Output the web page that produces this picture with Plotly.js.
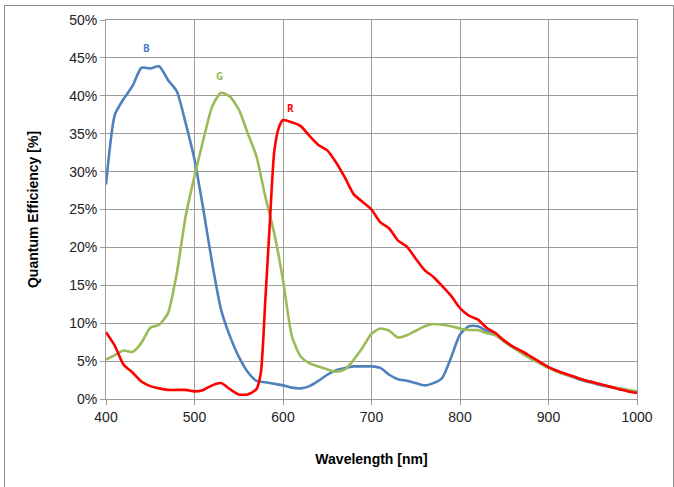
<!DOCTYPE html>
<html><head><meta charset="utf-8">
<script src="https://cdn.plot.ly/plotly-3.0.1.min.js"></script>
<style>
html,body{margin:0;padding:0;background:#fff;}
#wrap{position:relative;width:674px;height:487px;overflow:hidden;}
#frame{position:absolute;left:4px;top:5px;width:670px;height:490px;border:1px solid #8c8c8c;box-sizing:border-box;}
#chart{position:absolute;left:0;top:0;width:674px;height:487px;}
</style></head>
<body><div id="wrap"><div id="frame"></div><div id="chart"></div></div>
<script>
const wavelength = [400,410,420,430,440,450,460,470,480,490,500,510,520,530,540,550,560,570,580,590,600,610,620,630,640,650,660,670,680,690,700,710,720,730,740,750,760,770,780,790,800,810,820,830,840,850,860,870,880,890,900,910,920,930,940,950,960,970,980,990,1000];
const blueQE = [28.3,37.5,39.6,41.3,43.7,43.6,43.9,42.1,40.6,36.4,31.6,25.0,17.9,11.8,8.3,5.6,3.6,2.4,2.2,2.0,1.8,1.5,1.4,1.7,2.4,3.2,3.8,4.1,4.3,4.3,4.3,4.1,3.2,2.6,2.4,2.1,1.8,2.1,2.8,5.5,8.5,9.6,9.6,9.0,8.5,7.6,6.8,6.1,5.4,4.8,4.2,3.7,3.2,2.8,2.4,2.1,1.8,1.6,1.3,1.1,0.9];
const greenQE = [5.2,5.8,6.4,6.2,7.4,9.4,9.8,11.3,16.6,24.1,29.4,34.2,38.6,40.4,39.9,38.2,35.1,32.0,26.7,21.9,15.7,8.3,5.6,4.7,4.3,3.9,3.6,3.9,5.2,6.8,8.6,9.3,9.0,8.1,8.4,9.0,9.6,9.9,9.8,9.6,9.3,9.1,9.1,8.7,8.4,7.6,6.8,6.0,5.3,4.7,4.1,3.6,3.2,2.9,2.5,2.2,1.9,1.6,1.4,1.2,1.0];
const redWavelength = [400,410,420,430,440,450,460,470,480,490,500,510,520,530,540,550,560,570,575,580,585,590,595,600,610,620,630,640,650,660,670,680,690,700,710,720,730,740,750,760,770,780,790,800,810,820,830,840,850,860,870,880,890,900,910,920,930,940,950,960,970,980,990,1000];
const redQE = [8.8,7.0,4.5,3.5,2.3,1.7,1.4,1.2,1.2,1.2,1.0,1.2,1.8,2.1,1.3,0.6,0.6,1.3,3.5,13,23,32.5,35.7,36.8,36.5,36.0,34.7,33.5,32.8,31.2,29.2,27.0,26.0,25.0,23.3,22.5,20.9,20.1,18.5,17.0,16.1,14.9,13.6,12.0,11.0,10.5,9.4,8.7,7.7,6.9,6.3,5.6,4.9,4.2,3.7,3.3,2.9,2.5,2.2,1.9,1.6,1.3,1.0,0.8];
const seriesLabels = ['B','G','R'];
const labelX = [446,528,608];
const labelY = [46.3,42.6,38.4];
const colors = ['#4f81bd','#9bbb59','#ff0000'];

const font = "Liberation Sans Narrow, Liberation Sans, Arial, sans-serif";
const traces = [
  {x: wavelength, y: blueQE, name: 'B'},
  {x: wavelength, y: greenQE, name: 'G'},
  {x: redWavelength, y: redQE, name: 'R'}
].map((t,i)=>Object.assign(t,{type:'scatter',mode:'lines',line:{color:colors[i],width:2.6,shape:'spline',smoothing:0.6},hoverinfo:'skip'}));

const annotations = seriesLabels.map((s,i)=>({x:labelX[i],y:labelY[i],text:'<b>'+s+'</b>',showarrow:false,font:{family:"Open Sans, Liberation Sans, sans-serif",size:10,color:colors[i]}}));

const layout = {
  width:674,height:487,
  margin:{l:106,r:37,t:20,b:88},
  paper_bgcolor:'rgba(0,0,0,0)',plot_bgcolor:'#fff',
  showlegend:false,
  annotations: annotations,
  xaxis:{range:[400,1000],dtick:100,tick0:400,showgrid:true,gridcolor:'#9c9c9c',gridwidth:1,
    showline:true,linecolor:'#9c9c9c',mirror:true,ticks:'outside',ticklen:5,tickcolor:'#9c9c9c',zeroline:false,
    tickfont:{family:font,size:14,color:'#222'},
    title:{text:'<b>Wavelength [nm]</b>',font:{family:font,size:14,color:'#000'},standoff:30}},
  yaxis:{range:[0,50],dtick:5,tick0:0,ticksuffix:'%',showgrid:true,gridcolor:'#9c9c9c',gridwidth:1,
    showline:true,linecolor:'#9c9c9c',mirror:true,ticks:'outside',ticklen:5,tickcolor:'#9c9c9c',zeroline:false,
    tickfont:{family:font,size:14,color:'#222'},
    title:{text:'<b>Quantum Efficiency [%]</b>',font:{family:font,size:14,color:'#000'},standoff:27}}
};
Plotly.newPlot('chart',traces,layout,{staticPlot:true,displayModeBar:false});
</script></body></html>
